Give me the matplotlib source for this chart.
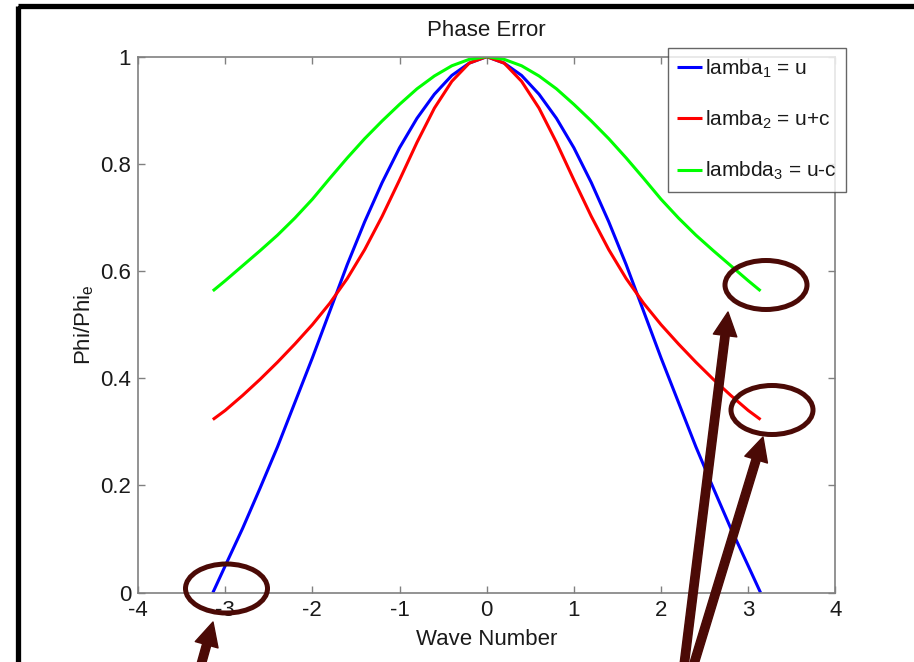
import matplotlib
matplotlib.use("Agg")
import matplotlib.pyplot as plt
from matplotlib.patches import Ellipse, Rectangle, FancyArrowPatch, ArrowStyle

# ---- data ----
wave_number = [-3.1416, -3.0, -2.8, -2.6, -2.4, -2.2, -2.0, -1.8, -1.6, -1.4, -1.2, -1.0, -0.8,
               -0.6, -0.4, -0.2, 0.0, 0.2, 0.4, 0.6, 0.8, 1.0, 1.2, 1.4, 1.6, 1.8, 2.0, 2.2,
               2.4, 2.6, 2.8, 3.0, 3.1416]
lambda1 = [0.0, 0.050, 0.120, 0.195, 0.272, 0.355, 0.438, 0.525, 0.612, 0.692, 0.765, 0.830, 0.885,
           0.930, 0.965, 0.988, 1.0, 0.988, 0.965, 0.930, 0.885, 0.830, 0.765, 0.692, 0.612, 0.525,
           0.438, 0.355, 0.272, 0.195, 0.120, 0.050, 0.0]
lambda2 = [0.323, 0.340, 0.368, 0.398, 0.430, 0.464, 0.500, 0.540, 0.586, 0.640, 0.702, 0.770, 0.840,
           0.904, 0.954, 0.988, 1.0, 0.988, 0.954, 0.904, 0.840, 0.770, 0.702, 0.640, 0.586, 0.540,
           0.500, 0.464, 0.430, 0.398, 0.368, 0.340, 0.323]
lambda3 = [0.563, 0.582, 0.610, 0.638, 0.667, 0.699, 0.734, 0.773, 0.811, 0.847, 0.880, 0.911, 0.940,
           0.964, 0.983, 0.995, 1.0, 0.995, 0.983, 0.964, 0.940, 0.911, 0.880, 0.847, 0.811, 0.773,
           0.734, 0.699, 0.667, 0.638, 0.610, 0.582, 0.563]
series_labels = ["lamba$_1$ = u", "lamba$_2$ = u+c", "lambda$_3$ = u-c"]
series_colors = ["#0000ff", "#ff0000", "#00ff00"]
x_ticks = [-4, -3, -2, -1, 0, 1, 2, 3, 4]
y_ticks = [0, 0.2, 0.4, 0.6, 0.8, 1]
y_tick_labels = ["0", "0.2", "0.4", "0.6", "0.8", "1"]

FONT = ["Liberation Sans Narrow", "Liberation Sans", "DejaVu Sans"]
plt.rcParams["font.family"] = FONT
plt.rcParams["mathtext.fontset"] = "custom"
plt.rcParams["mathtext.rm"] = "Liberation Sans"
plt.rcParams["mathtext.it"] = "Liberation Sans"
plt.rcParams["mathtext.bf"] = "Liberation Sans"

TXT = "#1a1a1a"
GREY = "#808080"

fig = plt.figure(figsize=(9.14, 6.62), dpi=100)
fig.patch.set_facecolor("white")
ax = fig.add_axes([0.151, 0.1047, 0.763, 0.8097])

for ys, lab, col in zip([lambda1, lambda2, lambda3], series_labels, series_colors):
    ax.plot(wave_number, ys, color=col, lw=2.2, label=lab, solid_capstyle="butt")

ax.set_xlim(-4, 4)
ax.set_ylim(0, 1)
ax.set_xticks(x_ticks)
ax.set_xticklabels([str(t) for t in x_ticks])
ax.set_yticks(y_ticks)
ax.set_yticklabels(y_tick_labels)
ax.tick_params(direction="in", length=5, width=1, color=GREY, labelsize=16,
               labelcolor=TXT, top=True, right=True)
ax.tick_params(axis="x", pad=5)
ax.tick_params(axis="y", pad=5)
for s in ax.spines.values():
    s.set_color(GREY)
    s.set_linewidth(1.2)

ax.set_title("Phase Error", fontsize=16, color=TXT, pad=15)
ax.set_xlabel("Wave Number", fontsize=16, color=TXT, labelpad=6)
ax.set_ylabel("Phi/Phi$_e$", fontsize=16, color=TXT, labelpad=3)

leg = fig.legend(loc="upper right", bbox_to_anchor=(846 / 914, 1 - 48 / 662),
                 bbox_transform=fig.transFigure, borderaxespad=0, fontsize=15,
                 frameon=True, fancybox=False, handlelength=1.2, handletextpad=0.15,
                 labelspacing=1.39, borderpad=0.45)
leg.get_frame().set_edgecolor("#404040")
leg.get_frame().set_linewidth(1.0)
for t in leg.get_texts():
    t.set_color(TXT)

# ---- overlay annotations (pixel coordinates of the picture) ----
ov = fig.add_axes([0, 0, 1, 1], zorder=10)
ov.set_xlim(0, 914)
ov.set_ylim(662, 0)
ov.axis("off")
ov.patch.set_visible(False)

MAROON = "#4b0a06"
ov.add_patch(Rectangle((18, 5.5), 1200, 1200, fill=False, ec="black", lw=3.8))

for (cx, cy) in [(226.5, 588.5), (766, 285), (772, 410)]:
    ov.add_patch(Ellipse((cx, cy), 82, 49, fill=False, ec=MAROON, lw=3.6))

style = ArrowStyle.Simple(head_length=1.7, head_width=1.7, tail_width=0.6)
for tail, tip in [((194, 690), (213, 622)), ((681, 690), (728, 312)), ((686, 690), (763, 437))]:
    ov.add_patch(FancyArrowPatch(tail, tip, arrowstyle=style, mutation_scale=10,
                                 color=MAROON, shrinkA=0, shrinkB=0))

fig.savefig("out.png", dpi=100)
